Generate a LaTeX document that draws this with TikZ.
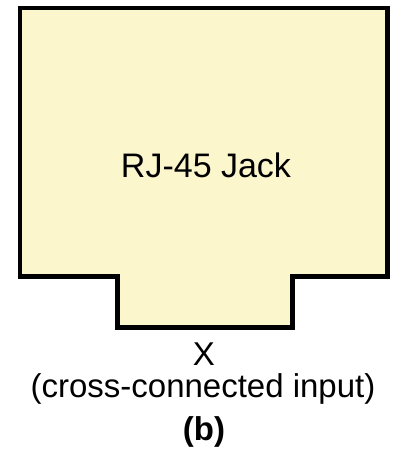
\documentclass[tikz,border=0pt]{standalone}
\usepackage{fontspec}
\setmainfont{Liberation Sans}
\definecolor{jackfill}{RGB}{251,246,204}
\begin{document}
\begin{tikzpicture}[x=1pt,y=-1pt,
  outline/.style={draw=black,line width=4.5pt,fill=jackfill,line join=miter},
  lbl/.style={inner sep=0pt,anchor=base,text=black}]
\useasboundingbox (0,0) rectangle (400,450);
\draw[outline] (20,8) -- (387.5,8) -- (387.5,276.5) -- (292.5,276.5) -- (292.5,327.5)
  -- (117.5,327.5) -- (117.5,276.5) -- (20,276.5) -- cycle;
\node[lbl] (jack) at (206,177) {\fontsize{34}{40}\selectfont RJ-45 Jack};
\node[lbl] (x) at (204,365) {\fontsize{33}{40}\selectfont X};
\node[lbl] (desc) at (203,397) {\fontsize{33}{40}\selectfont (cross-connected input)};
\node[lbl] (b) at (204,440) {\fontsize{33}{40}\selectfont\bfseries (b)};
\end{tikzpicture}
\end{document}
